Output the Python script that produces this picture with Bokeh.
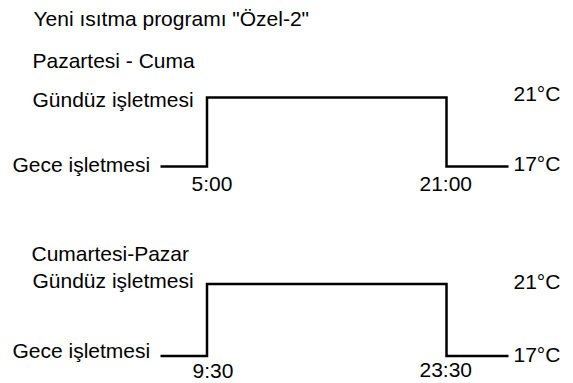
from bokeh.plotting import figure
from bokeh.models import Range1d, Label
from bokeh.layouts import column
from bokeh.embed import file_html
from bokeh.resources import INLINE

# ---------------- data ----------------
title = 'Yeni ısıtma programı "Özel-2"'
panel_titles = ["Pazartesi - Cuma", "Cumartesi-Pazar"]
day_label = "Gündüz işletmesi"
night_label = "Gece işletmesi"
day_temp = 21
night_temp = 17
temp_labels = ["21°C", "17°C"]
switch_times = [["5:00", "21:00"], ["9:30", "23:30"]]
# temperature level of each segment of the schematic profile (night, day, night)
profile_levels = [night_temp, day_temp, night_temp, night_temp]

# ---------------- layout (not data) ----------------
W = 573
FONT = "Liberation Sans"
FS = "21px"
STEP_X = [160, 206.5, 446, 508]   # schematic positions: start, switch-on, switch-off, end
BASE_SHIFT = 8                    # renderer places labels ~8px below requested baseline


def make_panel(h, hi_px, lo_px, texts):
    scale = (lo_px - hi_px) / (day_temp - night_temp)
    y_top = day_temp + hi_px / scale
    y_bot = day_temp - (h - hi_px) / scale
    p = figure(width=W, height=h, output_backend="svg", toolbar_location=None,
               x_range=Range1d(0, W), y_range=Range1d(y_bot, y_top),
               min_border=0, min_border_left=0, min_border_right=0,
               min_border_top=0, min_border_bottom=0)
    p.xaxis.visible = False
    p.yaxis.visible = False
    p.grid.visible = False
    p.outline_line_color = None
    p.background_fill_color = "white"
    p.border_fill_color = "white"

    p.step(x=STEP_X, y=profile_levels, mode="after", line_color="black",
           line_width=2.5, line_join="miter")

    for txt, x, base in texts:
        p.add_layout(Label(x=x, y=h - (base - BASE_SHIFT), x_units="screen", y_units="screen",
                           text=txt, text_font=FONT, text_font_size=FS,
                           text_color="black", text_baseline="alphabetic",
                           text_align="left"))
    return p


# panel 1 (includes main title)
H1 = 196
texts1 = [
    (title, 33, 25.5),
    (panel_titles[0], 32, 68.3),
    (day_label, 32, 106.5),
    (night_label, 12, 172),
    (switch_times[0][0], 191, 191),
    (switch_times[0][1], 419, 191),
    (temp_labels[0], 513, 101),
    (temp_labels[1], 513, 171),
]
p1 = make_panel(H1, 97, 166, texts1)

# panel 2
H2 = 187
texts2 = [
    (panel_titles[1], 31, 65),
    (day_label, 32, 91.5),
    (night_label, 12, 162),
    (switch_times[1][0], 192, 182),
    (switch_times[1][1], 419, 181),
    (temp_labels[0], 513, 93),
    (temp_labels[1], 513, 166),
]
p2 = make_panel(H2, 87.5, 159.5, texts2)

layout = column(p1, p2, spacing=0)

open("out.html", "w").write(file_html(layout, INLINE))
